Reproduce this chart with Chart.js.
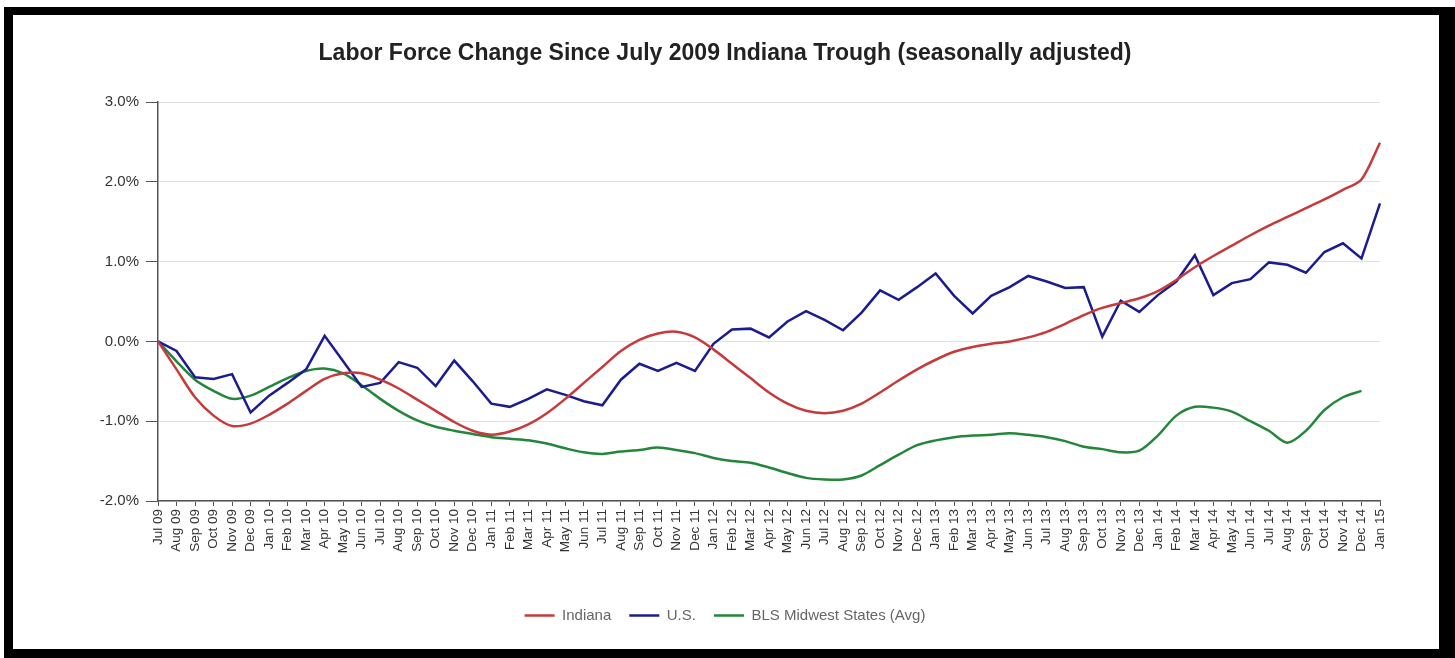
<!DOCTYPE html>
<html><head><meta charset="utf-8">
<script src="https://cdn.jsdelivr.net/npm/chart.js@4"></script>
<style>html,body{margin:0;padding:0;background:#fff;} canvas{display:block}</style>
</head><body><canvas id="c" width="1455" height="658"></canvas>
<script>
const months = ['Jul 09','Aug 09','Sep 09','Oct 09','Nov 09','Dec 09',
'Jan 10','Feb 10','Mar 10','Apr 10','May 10','Jun 10','Jul 10','Aug 10','Sep 10','Oct 10','Nov 10','Dec 10',
'Jan 11','Feb 11','Mar 11','Apr 11','May 11','Jun 11','Jul 11','Aug 11','Sep 11','Oct 11','Nov 11','Dec 11',
'Jan 12','Feb 12','Mar 12','Apr 12','May 12','Jun 12','Jul 12','Aug 12','Sep 12','Oct 12','Nov 12','Dec 12',
'Jan 13','Feb 13','Mar 13','Apr 13','May 13','Jun 13','Jul 13','Aug 13','Sep 13','Oct 13','Nov 13','Dec 13',
'Jan 14','Feb 14','Mar 14','Apr 14','May 14','Jun 14','Jul 14','Aug 14','Sep 14','Oct 14','Nov 14','Dec 14',
'Jan 15'];
const indiana = [0,-0.35,-0.70,-0.93,-1.06,-1.03,
-0.92,-0.78,-0.62,-0.47,-0.40,-0.40,-0.48,-0.59,-0.73,-0.87,-1.01,-1.12,
-1.17,-1.13,-1.04,-0.90,-0.72,-0.52,-0.32,-0.12,0.02,0.10,0.12,0.05,
-0.10,-0.28,-0.46,-0.64,-0.78,-0.87,-0.90,-0.87,-0.78,-0.64,-0.49,-0.35,
-0.23,-0.13,-0.07,-0.03,0.00,0.05,0.12,0.22,0.33,0.42,0.48,0.54,
0.63,0.77,0.93,1.07,1.20,1.33,1.45,1.56,1.67,1.78,1.90,2.03,
2.49];
const us = [0,-0.12,-0.45,-0.47,-0.41,-0.89,
-0.68,-0.52,-0.35,0.07,-0.25,-0.57,-0.52,-0.26,-0.33,-0.56,-0.24,-0.50,
-0.78,-0.82,-0.72,-0.60,-0.67,-0.75,-0.80,-0.48,-0.28,-0.37,-0.27,-0.37,
-0.03,0.15,0.16,0.05,0.25,0.38,0.27,0.14,0.36,0.64,0.52,0.68,
0.85,0.57,0.35,0.57,0.68,0.82,0.75,0.67,0.68,0.06,0.51,0.37,
0.58,0.75,1.08,0.58,0.73,0.78,0.99,0.96,0.86,1.12,1.23,1.04,
1.73];
const midwest = [0,-0.25,-0.48,-0.62,-0.72,-0.68,
-0.57,-0.46,-0.37,-0.34,-0.40,-0.55,-0.72,-0.87,-0.99,-1.07,-1.12,-1.16,
-1.20,-1.22,-1.24,-1.28,-1.34,-1.39,-1.41,-1.38,-1.36,-1.33,-1.36,-1.40,
-1.46,-1.50,-1.52,-1.58,-1.65,-1.71,-1.73,-1.73,-1.68,-1.55,-1.42,-1.30,
-1.24,-1.20,-1.18,-1.17,-1.15,-1.17,-1.20,-1.25,-1.32,-1.35,-1.39,-1.37,
-1.18,-0.93,-0.82,-0.83,-0.88,-1.00,-1.12,-1.27,-1.12,-0.86,-0.70,-0.62,
null];
const seriesNames = ['Indiana','U.S.','BLS Midwest States (Avg)'];
const titleText = 'Labor Force Change Since July 2009 Indiana Trough (seasonally adjusted)';

const FONT = "'Liberation Sans', Arial, sans-serif";

const frame = {
  id: 'frame',
  beforeDraw(chart) {
    const ctx = chart.ctx;
    ctx.save();
    ctx.fillStyle = '#fff';
    ctx.fillRect(0, 0, chart.width, chart.height);
    ctx.fillStyle = '#000';
    ctx.fillRect(4, 7, 1451, 651);
    ctx.fillStyle = '#fff';
    ctx.fillRect(13, 15, 1426, 634);
    ctx.restore();
  }
};

new Chart(document.getElementById('c'), {
  type: 'line',
  data: {
    labels: months,
    datasets: [
      { label: seriesNames[0], data: indiana, borderColor: '#c63a3c', backgroundColor: '#c63a3c', borderWidth: 2.5, pointRadius: 0, tension: 0.3 },
      { label: seriesNames[1], data: us, borderColor: '#1c1c90', backgroundColor: '#1c1c90', borderWidth: 2.5, pointRadius: 0, tension: 0 },
      { label: seriesNames[2], data: midwest, borderColor: '#23863a', backgroundColor: '#23863a', borderWidth: 2.5, pointRadius: 0, tension: 0.3 }
    ]
  },
  options: {
    responsive: false,
    animation: false,
    devicePixelRatio: 1,
    layout: { padding: { left: 70, right: 75, top: 0, bottom: 25 } },
    plugins: {
      title: {
        display: true, text: titleText, color: '#222',
        font: { family: FONT, size: 23, weight: 'bold', lineHeight: 1.2 },
        padding: { top: 40, bottom: 34.4 }
      },
      legend: {
        position: 'bottom',
        labels: {
          usePointStyle: true, pointStyle: 'line', pointStyleWidth: 30, boxHeight: 12,
          color: '#666', font: { family: FONT, size: 15 }, padding: 18
        }
      },
      tooltip: { enabled: false }
    },
    scales: {
      x: {
        grid: { drawOnChartArea: false, drawTicks: true, tickLength: 5, tickColor: '#555' },
        border: { color: '#555', width: 1.5 },
        ticks: { autoSkip: false, maxRotation: 90, minRotation: 90, color: '#333', font: { family: FONT, size: 13.5 }, padding: 3 },
        afterFit: s => { s.height = 89; }
      },
      y: {
        min: -2, max: 3,
        grid: { color: '#e2e2e2', tickColor: '#555', tickLength: 12 },
        border: { color: '#555', width: 1.5 },
        ticks: { stepSize: 1, color: '#333', font: { family: FONT, size: 15 }, padding: 7,
          callback: v => v.toFixed(1) + '%' },
        afterFit: s => { s.width = 88; }
      }
    }
  },
  plugins: [frame]
});
</script>
</body></html>
